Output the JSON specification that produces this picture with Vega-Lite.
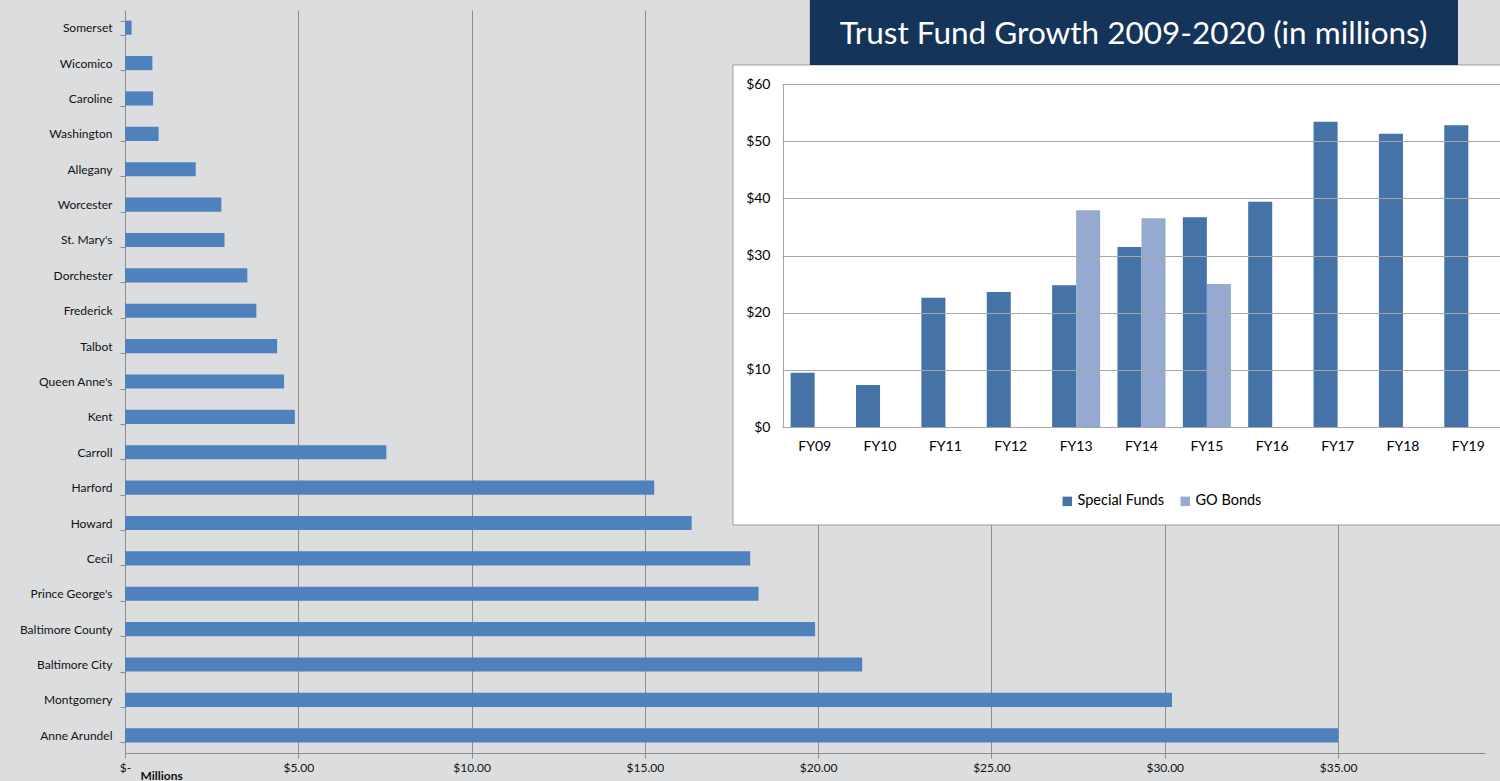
{
  "$schema": "https://vega.github.io/schema/vega-lite/v6.json",
  "width": 1360,
  "height": 743,
  "autosize": {"type": "none"},
  "padding": {"left": 125, "top": 10, "right": 15, "bottom": 28},
  "background": "#dcdddf",
  "config": {"view": {"stroke": null}, "font": "Lato"},
  "datasets": {
    "counties": [
      {"county": "Somerset", "millions": 0.19},
      {"county": "Wicomico", "millions": 0.79},
      {"county": "Caroline", "millions": 0.81},
      {"county": "Washington", "millions": 0.97},
      {"county": "Allegany", "millions": 2.04},
      {"county": "Worcester", "millions": 2.78},
      {"county": "St. Mary's", "millions": 2.87},
      {"county": "Dorchester", "millions": 3.53},
      {"county": "Frederick", "millions": 3.79},
      {"county": "Talbot", "millions": 4.39},
      {"county": "Queen Anne's", "millions": 4.59},
      {"county": "Kent", "millions": 4.9},
      {"county": "Carroll", "millions": 7.54},
      {"county": "Harford", "millions": 15.27},
      {"county": "Howard", "millions": 16.35},
      {"county": "Cecil", "millions": 18.04},
      {"county": "Prince George's", "millions": 18.28},
      {"county": "Baltimore County", "millions": 19.91},
      {"county": "Baltimore City", "millions": 21.27},
      {"county": "Montgomery", "millions": 30.21},
      {"county": "Anne Arundel", "millions": 35.0}
    ],
    "trust": [
      {"fy": "FY09", "series": "Special Funds", "value": 9.5},
      {"fy": "FY10", "series": "Special Funds", "value": 7.35},
      {"fy": "FY11", "series": "Special Funds", "value": 22.6},
      {"fy": "FY12", "series": "Special Funds", "value": 23.6},
      {"fy": "FY13", "series": "Special Funds", "value": 24.8},
      {"fy": "FY13", "series": "GO Bonds", "value": 37.9},
      {"fy": "FY14", "series": "Special Funds", "value": 31.5},
      {"fy": "FY14", "series": "GO Bonds", "value": 36.5},
      {"fy": "FY15", "series": "Special Funds", "value": 36.7},
      {"fy": "FY15", "series": "GO Bonds", "value": 25.0},
      {"fy": "FY16", "series": "Special Funds", "value": 39.4},
      {"fy": "FY17", "series": "Special Funds", "value": 53.4},
      {"fy": "FY18", "series": "Special Funds", "value": 51.3},
      {"fy": "FY19", "series": "Special Funds", "value": 52.8}
    ]
  },
  "layer": [
    {
      "data": {"name": "counties"},
      "mark": {"type": "bar", "color": "#4f81bd"},
      "encoding": {
        "y": {
          "field": "county", "type": "nominal", "sort": null,
          "scale": {"paddingInner": 0.6, "paddingOuter": 0.3},
          "axis": {"title": null, "orient": "left", "tickBand": "extent", "domainColor": "#8c8c8c", "tickColor": "#8c8c8c", "tickSize": 5, "labelFontSize": 12, "labelColor": "#111111", "labelPadding": 8, "labelFont": "Lato"}
        },
        "x": {
          "field": "millions", "type": "quantitative",
          "scale": {"domain": [0, 39.24], "nice": false},
          "axis": {"orient": "bottom", "values": [0, 5, 10, 15, 20, 25, 30, 35], "labelExpr": "datum.value == 0 ? '$-' : '$' + format(datum.value, '.2f')", "labelFlush": false, "grid": true, "gridColor": "#8c8c8c", "domainColor": "#8c8c8c", "tickColor": "#8c8c8c", "tickSize": 5, "labelFontSize": 12, "labelColor": "#111111", "labelPadding": 4, "title": "Millions", "titleFontSize": 12, "titleFontWeight": "bold", "titleColor": "#111111", "titleAnchor": "start", "titleAlign": "left", "titleBaseline": "middle", "titleX": 15, "titleY": 22}
        }
      }
    },
    {
      "data": {"values": [{}]},
      "layer": [
        {
          "mark": {"type": "rect", "fill": "#ffffff", "stroke": "#9c9c9c", "strokeWidth": 1},
          "encoding": {
            "x": {"datum": 17.54, "type": "quantitative", "scale": {"domain": [0, 39.24], "nice": false, "zero": false}, "axis": null},
            "x2": {"datum": 40.3},
            "y": {"datum": 63.33, "type": "quantitative", "scale": {"domain": [0, 60], "range": [417, 74], "nice": false, "zero": false}, "axis": null},
            "y2": {"datum": -17.14}
          }
        },
        {
          "mark": {"type": "rect", "fill": "#15345a"},
          "encoding": {
            "x": {"datum": 19.76, "type": "quantitative", "scale": {"domain": [0, 39.24], "nice": false, "zero": false}, "axis": null},
            "x2": {"datum": 38.46},
            "y": {"datum": 74.7, "type": "quantitative", "scale": {"domain": [0, 60], "range": [417, 74], "nice": false, "zero": false}, "axis": null},
            "y2": {"datum": 63.33}
          }
        },
        {
          "mark": {"type": "text", "color": "#ffffff", "fontSize": 31.5, "font": "Lato", "align": "center", "baseline": "middle"},
          "encoding": {
            "x": {"datum": 29.1, "type": "quantitative", "scale": {"domain": [0, 39.24], "nice": false, "zero": false}, "axis": null},
            "y": {"datum": 68.6, "type": "quantitative", "scale": {"domain": [0, 60], "range": [417, 74], "nice": false, "zero": false}, "axis": null},
            "text": {"value": "Trust Fund Growth 2009-2020 (in millions)"}
          }
        }
      ]
    },
    {
      "data": {"name": "trust"},
      "mark": {"type": "bar"},
      "encoding": {
        "x": {
          "field": "fy", "type": "nominal", "sort": null,
          "scale": {"range": [657, 1376], "paddingInner": 0, "paddingOuter": 0},
          "axis": {"orient": "bottom", "offset": -326, "title": null, "ticks": false, "grid": false, "domainColor": "#a6a6a6", "labelFontSize": 14, "labelColor": "#000000", "labelPadding": 12, "labelAngle": 0, "zindex": 1}
        },
        "xOffset": {"field": "series", "type": "nominal", "scale": {"domain": ["Special Funds", "GO Bonds"], "paddingOuter": 0.36, "paddingInner": 0}},
        "y": {
          "field": "value", "type": "quantitative",
          "scale": {"domain": [0, 60], "range": [417, 74], "nice": false},
          "axis": {"orient": "left", "offset": -658, "values": [0, 10, 20, 30, 40, 50, 60], "labelExpr": "'$' + datum.value", "title": null, "ticks": false, "grid": true, "gridColor": "#a6a6a6", "domainColor": "#a6a6a6", "labelFontSize": 14, "labelColor": "#000000", "labelPadding": 13, "zindex": 1}
        },
        "color": {
          "field": "series", "type": "nominal",
          "scale": {"domain": ["Special Funds", "GO Bonds"], "range": ["#4572a7", "#95a9d1"]},
          "legend": {"title": null, "orient": "none", "legendX": 935, "legendY": 484, "direction": "horizontal", "symbolType": "square", "symbolSize": 90, "symbolStrokeWidth": 0, "labelFontSize": 14.5, "labelColor": "#000000", "columnPadding": 14, "labelOffset": 3}
        }
      }
    }
  ],
  "resolve": {
    "scale": {"x": "independent", "y": "independent", "color": "independent", "xOffset": "independent"},
    "axis": {"x": "independent", "y": "independent"}
  }
}
